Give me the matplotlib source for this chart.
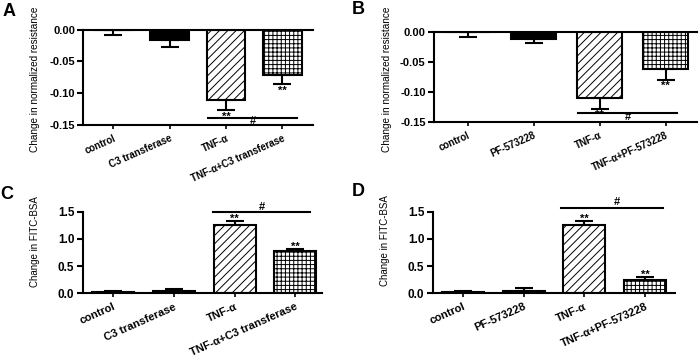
import numpy as np
import matplotlib
matplotlib.use("Agg")
import matplotlib.pyplot as plt

plt.rcParams["font.family"] = ["Liberation Sans", "DejaVu Sans"]
plt.rcParams["axes.unicode_minus"] = False
plt.rcParams["hatch.linewidth"] = 0.7

# categories
labels_c3 = ["control", "C3 transferase", "TNF-α", "TNF-α+C3 transferase"]
labels_pf = ["control", "PF-573228", "TNF-α", "TNF-α+PF-573228"]

# change in normalized resistance (mean, SEM)
res_c3 = [0.0, -0.016, -0.111, -0.0715]
res_c3_err = [0.008, 0.012, 0.016, 0.0147]
res_pf = [0.0, -0.011, -0.111, -0.062]
res_pf_err = [0.0077, 0.0064, 0.0175, 0.018]

# change in FITC-BSA (mean, SEM)
fitc_c3 = [0.03, 0.045, 1.25, 0.777]
fitc_c3_err = [0.004, 0.035, 0.085, 0.043]
fitc_pf = [0.03, 0.05, 1.255, 0.25]
fitc_pf_err = [0.004, 0.04, 0.08, 0.05]

# "#" comparison: line (x1, x2, y) and "#" text (x, y)
hash_a = [1.68, 3.27, -0.1385, 2.48, -0.1435]
hash_b = [1.67, 3.17, -0.136, 2.43, -0.1415]
hash_c = [1.64, 3.25, 1.50, 2.45, 1.59]
hash_d = [1.62, 3.30, 1.56, 2.53, 1.68]

fills = ["white", "black", "white", "white"]
hatches = [None, None, "////", "++++"]


def draw_panel(ax, labels, vals, errs, hsh, xlim, ylim, yticks, ylabs,
               tick_fs, xlab_fs, negative):
    x = np.arange(len(labels))
    bars = ax.bar(x, vals, width=0.69, color=fills, edgecolor="black",
                  linewidth=1.5, zorder=2)
    for b, h in zip(bars, hatches):
        if h:
            b.set_hatch(h)
    zeros = [0] * len(errs)
    yerr = [errs, zeros] if negative else [zeros, errs]
    ax.errorbar(x, vals, yerr=yerr, fmt="none", ecolor="black",
                elinewidth=1.5, capsize=6.5, capthick=1.5, zorder=3)

    # "**" just beyond the error cap of the two TNF bars
    span = ylim[1] - ylim[0]
    for i in [2, 3]:
        if negative:
            ax.text(x[i], vals[i] - errs[i] - 0.012 * span, "**", ha="center",
                    va="top", fontsize=8, fontweight="bold", clip_on=False,
                    zorder=5)
        else:
            ax.text(x[i], vals[i] + errs[i] - 0.01 * span, "**", ha="center",
                    va="baseline", fontsize=8, fontweight="bold",
                    clip_on=False, zorder=5)
    ax.plot([hsh[0], hsh[1]], [hsh[2], hsh[2]], color="black", lw=1.5,
            clip_on=False, zorder=4)
    ax.text(hsh[3], hsh[4], "#", ha="center", va="center", fontsize=8,
            fontweight="bold", clip_on=False)

    ax.set_xlim(xlim)
    ax.set_ylim(ylim)
    ax.set_yticks(yticks, ylabs, fontweight="bold", fontsize=tick_fs)
    ax.set_xticks(x, labels, rotation=24, ha="right", rotation_mode="anchor",
                  fontweight="bold", fontsize=xlab_fs)
    ax.tick_params(axis="y", length=4, width=1.5, pad=2)
    ax.tick_params(axis="x", length=3, width=1.2, pad=3)
    ax.spines["right"].set_visible(False)
    ax.spines["top"].set_visible(negative)
    for s in ["left", "bottom", "top"]:
        ax.spines[s].set_linewidth(1.5)


fig = plt.figure(figsize=(7, 3.61), dpi=100)

ax_a = fig.add_axes([0.119, 0.654, 0.328, 0.264])
ax_b = fig.add_axes([0.620, 0.663, 0.376, 0.247])
ax_c = fig.add_axes([0.118, 0.1875, 0.342, 0.226])
ax_d = fig.add_axes([0.618, 0.1875, 0.346, 0.226])

res_ticks = [0.0, -0.05, -0.10, -0.15]
res_labs = ["0.00", "-0.05", "-0.10", "-0.15"]
fitc_ticks = [0.0, 0.5, 1.0, 1.5]
fitc_labs = ["0.0", "0.5", "1.0", "1.5"]

draw_panel(ax_a, labels_c3, res_c3, res_c3_err, hash_a,
           (-0.535, 3.545), (-0.15, 0.0), res_ticks, res_labs, 8, 7, True)
draw_panel(ax_b, labels_pf, res_pf, res_pf_err, hash_b,
           (-0.51, 3.48), (-0.15, 0.0), res_ticks, res_labs, 8, 7, True)
draw_panel(ax_c, labels_c3, fitc_c3, fitc_c3_err, hash_c,
           (-0.505, 3.44), (0.0, 1.5), fitc_ticks, fitc_labs, 8.5, 8, False)
draw_panel(ax_d, labels_pf, fitc_pf, fitc_pf_err, hash_d,
           (-0.5, 3.49), (0.0, 1.5), fitc_ticks, fitc_labs, 8.5, 8, False)

# y labels
fig.text(35 / 700, 1 - 79 / 361, "Change in normalized resistance",
         rotation=90, ha="center", va="center", fontsize=7.2)
fig.text(387 / 700, 1 - 79 / 361, "Change in normalized resistance",
         rotation=90, ha="center", va="center", fontsize=7.2)
fig.text(35 / 700, 1 - 242 / 361, "Change in FITC-BSA",
         rotation=90, ha="center", va="center", fontsize=7)
fig.text(385 / 700, 1 - 241 / 361, "Change in FITC-BSA",
         rotation=90, ha="center", va="center", fontsize=7)

# panel letters
for lx, ly, let in [(9, 12, "A"), (358, 10, "B"), (7, 195, "C"), (358, 191, "D")]:
    fig.text(lx / 700, 1 - ly / 361, let, ha="center", va="center",
             fontsize=13, fontweight="bold")

fig.savefig("out.png", dpi=100)
